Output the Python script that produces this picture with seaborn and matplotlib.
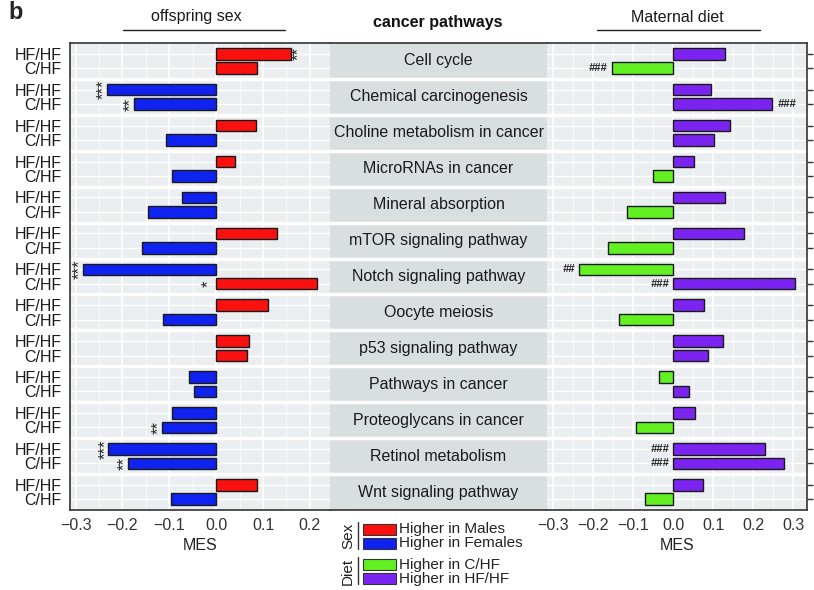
"""
cancer_pathways_mes.py

Mirrored bar chart of MES scores for cancer pathways: one panel by
offspring sex, one by maternal diet, pathway names in a strip between.
"""

import pandas as pd
import numpy as np
import matplotlib.pyplot as plt
import seaborn as sns
from matplotlib.lines import Line2D
from matplotlib.patches import Rectangle

pathways = [
    "Cell cycle", "Chemical carcinogenesis", "Choline metabolism in cancer",
    "MicroRNAs in cancer", "Mineral absorption", "mTOR signaling pathway",
    "Notch signaling pathway", "Oocyte meiosis", "p53 signaling pathway",
    "Pathways in cancer", "Proteoglycans in cancer", "Retinol metabolism",
    "Wnt signaling pathway",
]
groups = ["HF/HF", "C/HF"]

# MES, offspring sex (positive = higher in males)
sex_hfhf = [0.160, -0.233, 0.084, 0.040, -0.072, 0.130, -0.285, 0.111, 0.070, -0.058, -0.094, -0.230, 0.087]
sex_chf = [0.087, -0.176, -0.107, -0.094, -0.145, -0.159, 0.215, -0.113, 0.065, -0.047, -0.116, -0.189, -0.096]
# MES, maternal diet (positive = higher in HF/HF)
diet_hfhf = [0.128, 0.093, 0.141, 0.051, 0.128, 0.176, -0.235, 0.076, 0.124, -0.037, 0.054, 0.228, 0.074]
diet_chf = [-0.154, 0.246, 0.102, -0.052, -0.116, -0.164, 0.304, -0.136, 0.086, 0.038, -0.094, 0.276, -0.072]

sex_sig_hfhf = ["**", "***", "", "", "", "", "***", "", "", "", "", "***", ""]
sex_sig_chf = ["", "**", "", "", "", "", "*", "", "", "", "**", "**", ""]
diet_sig_hfhf = ["", "", "", "", "", "", "##", "", "", "", "", "###", ""]
diet_sig_chf = ["###", "###", "", "", "", "", "###", "", "", "", "", "###", ""]
# marks that sit left of zero instead of at the bar end: (panel, pathway, group)
sig_at_zero = [("sex", 6, 1), ("diet", 6, 1), ("diet", 11, 0), ("diet", 11, 1)]

sex_levels = ["Higher in Males", "Higher in Females"]
diet_levels = ["Higher in C/HF", "Higher in HF/HF"]
colors = {
    "Higher in Males": "#fb1010", "Higher in Females": "#1022f0",
    "Higher in C/HF": "#62f022", "Higher in HF/HF": "#7b24f2",
}

W, H = 814, 590
GROUP = 2.494  # group pitch in row units


def fx(x):
    return x / W


def fy(y):
    return 1 - y / H


def build_frame(hfhf, chf, pos_label, neg_label):
    rows = []
    for i, p in enumerate(pathways):
        for j, v in enumerate([hfhf[i], chf[i]]):
            rows.append({
                "pathway": p, "group": groups[j], "MES": v,
                "pos": i * GROUP + j,
                "dir": pos_label if v > 0 else neg_label,
            })
    return pd.DataFrame(rows)


def style_axis(ax, ticks, xlim):
    ax.set_facecolor("#ebeef0")
    ax.set_axisbelow(True)
    ax.set_xticks(ticks)
    ax.set_xticklabels([f"{t:.1f}".replace("-", "\u2212") for t in ticks],
                       fontsize=11.5, color="#333333")
    ax.set_xticks([t + 0.05 for t in ticks] + [ticks[0] - 0.05], minor=True)
    # limits after the ticks, set_xticks widens the view otherwise
    ax.set_xlim(*xlim)
    ax.set_ylim(12 * GROUP + 0.5 + GROUP / 2, 0.5 - GROUP / 2)
    ax.grid(which="major", axis="x", color="white", lw=1.1)
    ax.grid(which="minor", axis="x", color="white", lw=0.5)
    ax.grid(which="major", axis="y", color="white", lw=1.0)
    ax.tick_params(which="minor", length=0)
    ax.tick_params(which="major", length=4, width=1, color="#333333", pad=2)
    ax.set_yticks([i * GROUP + j for i in range(len(pathways)) for j in range(2)])
    for s in ax.spines.values():
        s.set_visible(False)
    for side in ("top", "bottom"):
        ax.spines[side].set_visible(True)
        ax.spines[side].set_color("#333333")
        ax.spines[side].set_linewidth(1.2)
    for i in range(1, len(pathways)):
        ax.axhline(i * GROUP + 0.5 - GROUP / 2, color="white", lw=2.5, zorder=1.5)


def draw_panel(ax, df, levels, sig_hfhf, sig_chf, name, rotate):
    sns.barplot(data=df, x="MES", y="pos", hue="dir", hue_order=levels,
                palette=colors, orient="y", native_scale=True, dodge=False,
                width=0.8, saturation=1, errorbar=None, legend=False,
                edgecolor="#1a1a1a", linewidth=1, ax=ax)
    ax.set_ylabel("")
    ax.set_xlabel("MES", fontsize=11.5, color="#222222", labelpad=3)
    values = df["MES"].to_numpy()
    for i in range(len(pathways)):
        for j, sig in enumerate([sig_hfhf[i], sig_chf[i]]):
            if not sig:
                continue
            v = values[2 * i + j]
            y = i * GROUP + j
            if (name, i, j) in sig_at_zero:
                x, dx, ha = 0.0, 0 if rotate else -3, "right"
            elif v > 0:
                x, dx, ha = v, 0 if rotate else 4, "left"
            else:
                x, dx, ha = v, 3 if rotate else -3, "right"
            if rotate:
                ax.annotate(sig, (x, y), xytext=(dx, 0), textcoords="offset points",
                            ha=ha, va="center", rotation=90, fontsize=12,
                            color="#222222")
            else:
                ax.annotate(sig, (x, y), xytext=(dx, 0), textcoords="offset points",
                            ha=ha, va="center", fontsize=8, fontweight="bold",
                            fontstyle="italic", color="#222222")


def draw_legend(fig):
    blocks = [("Sex", sex_levels, 522), ("Diet", diet_levels, 557)]
    for title, levels, top in blocks:
        fig.text(fx(348), fy(top + 14), title, rotation=90, ha="center",
                 va="center", fontsize=11, color="#222222")
        fig.add_artist(Line2D([fx(358), fx(358)], [fy(top), fy(top + 27)],
                              color="#333333", lw=1, transform=fig.transFigure))
        for k, lab in enumerate(levels):
            y0 = top + 2 + k * 14
            fig.add_artist(Rectangle((fx(363), fy(y0 + 11)), fx(33), 11 / H,
                                     facecolor=colors[lab], edgecolor="#333333",
                                     lw=0.8, transform=fig.transFigure))
            fig.text(fx(399), fy(y0 + 5.5), lab, ha="left", va="center",
                     fontsize=11, color="#222222")


def main() -> None:
    sns.set_theme(style="darkgrid")
    plt.rcParams["font.family"] = ["Liberation Sans", "DejaVu Sans"]

    fig = plt.figure(figsize=(W / 100, H / 100), dpi=100)
    bottom, height = fy(510), 467 / H
    ax_l = fig.add_axes([fx(70), bottom, fx(260), height])
    ax_m = fig.add_axes([fx(330), bottom, fx(217), height])
    ax_r = fig.add_axes([fx(547), bottom, fx(260), height])

    sex_df = build_frame(sex_hfhf, sex_chf, "Higher in Males", "Higher in Females")
    diet_df = build_frame(diet_hfhf, diet_chf, "Higher in HF/HF", "Higher in C/HF")

    draw_panel(ax_l, sex_df, sex_levels, sex_sig_hfhf, sex_sig_chf, "sex", True)
    style_axis(ax_l, [-0.3, -0.2, -0.1, 0.0, 0.1, 0.2], (-0.312, 0.243))
    ax_l.spines["left"].set_visible(True)
    ax_l.spines["left"].set_color("#333333")
    ax_l.spines["left"].set_linewidth(1.2)
    ax_l.set_yticklabels(groups * len(pathways), fontsize=11.5, color="#1a1a1a")

    draw_panel(ax_r, diet_df, diet_levels, diet_sig_hfhf, diet_sig_chf, "diet", False)
    style_axis(ax_r, [-0.3, -0.2, -0.1, 0.0, 0.1, 0.2, 0.3], (-0.316, 0.334))
    ax_r.spines["right"].set_visible(True)
    ax_r.spines["right"].set_color("#333333")
    ax_r.spines["right"].set_linewidth(1.2)
    ax_r.yaxis.tick_right()
    ax_r.set_yticklabels([])

    # middle strip with pathway names
    ax_m.set_facecolor("#d9dfdf")
    ax_m.grid(False)
    ax_m.set_xlim(0, 1)
    ax_m.set_ylim(ax_l.get_ylim())
    ax_m.set_xticks([])
    ax_m.set_yticks([])
    for s in ax_m.spines.values():
        s.set_visible(False)
    for side in ("top", "bottom"):
        ax_m.spines[side].set_visible(True)
        ax_m.spines[side].set_color("#333333")
        ax_m.spines[side].set_linewidth(1.2)
    for i, p in enumerate(pathways):
        ax_m.text(0.5, i * GROUP + 0.5, p, ha="center", va="center",
                  fontsize=11.5, color="#1a1a1a")
        if i:
            ax_m.axhline(i * GROUP + 0.5 - GROUP / 2, color="white", lw=2.5)

    # headers
    fig.text(fx(8), fy(1), "b", fontsize=17, fontweight="bold", va="top")
    fig.text(fx(196), fy(17), "offspring sex", ha="center", va="center",
             fontsize=11.5, color="#1a1a1a")
    fig.text(fx(438), fy(22), "cancer pathways", ha="center", va="center",
             fontsize=11.5, fontweight="bold", color="#111111")
    fig.text(fx(677), fy(17), "Maternal diet", ha="center", va="center",
             fontsize=11.5, color="#1a1a1a")
    for x0, x1 in [(123, 285), (597, 760)]:
        fig.add_artist(Line2D([fx(x0), fx(x1)], [fy(30), fy(30)], color="#222222",
                              lw=1, transform=fig.transFigure))

    draw_legend(fig)
    fig.savefig("out.png", dpi=100, facecolor="white")


if __name__ == "__main__":
    main()
